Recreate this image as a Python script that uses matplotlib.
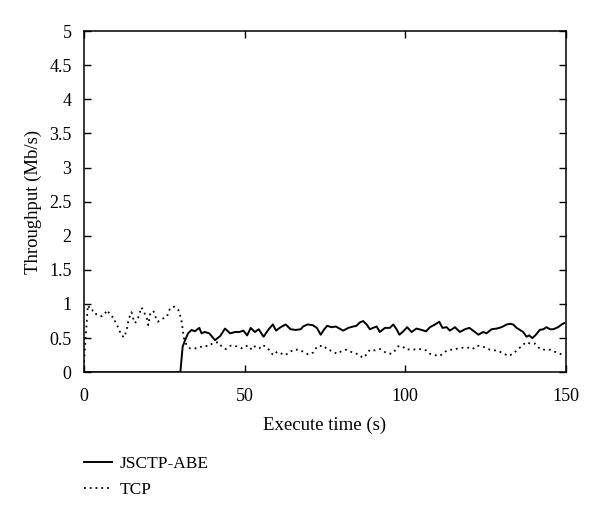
import matplotlib
matplotlib.use("Agg")
import matplotlib.pyplot as plt

plt.rcParams['font.family'] = ['Liberation Serif', 'DejaVu Serif']

# JSCTP-ABE throughput (Mb/s)
jsctp_t = [0, 30, 30.7, 31.3, 32.4, 33.5, 34.5, 35.9, 36.6, 37.6, 39, 40.8, 42.4, 43.9,
           45.5, 47.1, 48.4, 49.6, 50.8, 51.9, 53.2, 54.4, 55.9, 57.5, 58.8, 59.8, 61.2,
           62.8, 64.3, 65.9, 67.5, 68.2, 69.6, 71.2, 72.5, 73.7, 74.8, 75.7, 77.1, 78.4,
           80.7, 82.3, 83.8, 84.8, 85.9, 86.9, 88, 89, 90, 91.1, 92.1, 93.7, 95.2, 96.3,
           97.3, 98.2, 99.4, 100.6, 102, 103.5, 105.1, 106.5, 107.7, 109.3, 110.6, 111.6,
           112.9, 113.9, 115.5, 117, 118.6, 120, 121.4, 122.8, 124.3, 125.3, 126.9, 128.5,
           130, 131.6, 132.8, 133.6, 134.7, 135.7, 136.7, 137.8, 138.6, 139.6, 140.7,
           141.9, 143, 144, 145.1, 146.1, 147.6, 148.7, 149.5]
jsctp_v = [0, 0, 0.37, 0.45, 0.57, 0.62, 0.6, 0.65, 0.57, 0.59, 0.57, 0.47, 0.53, 0.64,
           0.57, 0.59, 0.59, 0.61, 0.54, 0.65, 0.59, 0.63, 0.52, 0.63, 0.7, 0.61, 0.66,
           0.7, 0.63, 0.62, 0.63, 0.67, 0.7, 0.69, 0.65, 0.55, 0.63, 0.68, 0.66, 0.67,
           0.61, 0.65, 0.67, 0.68, 0.73, 0.75, 0.7, 0.63, 0.65, 0.67, 0.59, 0.65, 0.65, 0.7,
           0.63, 0.55, 0.6, 0.66, 0.59, 0.64, 0.62, 0.6, 0.66, 0.7, 0.74, 0.65,
           0.66, 0.61, 0.66, 0.59, 0.63, 0.65, 0.6, 0.55, 0.59, 0.57, 0.63, 0.64,
           0.66, 0.7, 0.71, 0.7, 0.65, 0.62, 0.59, 0.52, 0.54, 0.5, 0.55,
           0.62, 0.63, 0.66, 0.63, 0.63, 0.66, 0.7, 0.72]

# TCP throughput (Mb/s)
tcp_t = [0, 1.2, 2.3, 3, 3.8, 5.6, 6.4, 7.2, 8.5, 9.4, 9.8, 10.9, 11.4, 12.5, 13.3, 13.9,
         14.8, 15.3, 15.9, 16.8, 17.9, 18.7, 19.6, 20, 20.6, 21.6, 22.2, 23, 24.2, 25.8,
         26.8, 28.1, 29.4, 30.1, 30.4, 30.7, 31.1, 31.9, 33, 34, 35, 36.3, 37.3, 38.7,
         40.2, 41.8, 42.8, 44.1, 45.7, 47.5, 49.1, 50.1, 51.2, 52.2, 53.2, 54.6, 55.6,
         56.3, 57.6, 58.9, 60.1, 61.2, 62.4, 63.8, 65.1, 66.9, 68.3, 69.8, 71.4, 72.6,
         74.6, 75.8, 77.4, 78.7, 80.2, 81.5, 83.1, 84.1, 85.7, 86.7, 88, 89, 90.6, 92.2,
         93.2, 94.2, 95.8, 97.1, 97.8, 99.2, 100.4, 102, 103.5, 105.1, 106.5, 107.7,
         109.3, 110.8, 112.4, 113.7, 115, 116.5, 118.1, 119.7, 121, 122.3, 123.7, 125.1,
         126.4, 128, 129.5, 130.8, 132.1, 133.6, 134.9, 136.2, 137.6, 138.9, 140.4, 142,
         143.5, 145.1, 146.6, 148.2, 149.5]
tcp_v = [0.15, 0.98, 0.9, 0.91, 0.85, 0.82, 0.85, 0.91, 0.82, 0.8, 0.72, 0.64, 0.56, 0.51,
         0.62, 0.78, 0.88, 0.79, 0.72, 0.79, 0.95, 0.88, 0.79, 0.69, 0.85, 0.9, 0.82, 0.74,
         0.78, 0.81, 0.94, 0.96, 0.91, 0.81, 0.74, 0.64, 0.5, 0.4, 0.35, 0.35, 0.35, 0.37,
         0.39, 0.38, 0.43, 0.44, 0.38, 0.34, 0.39, 0.38, 0.35, 0.38, 0.39, 0.33, 0.38,
         0.35, 0.4, 0.38, 0.33, 0.25, 0.3, 0.28, 0.25, 0.28, 0.33, 0.33, 0.3, 0.26, 0.29,
         0.38, 0.39, 0.33, 0.31, 0.27, 0.31, 0.33, 0.3, 0.28, 0.26, 0.21, 0.26, 0.33,
         0.32, 0.34, 0.31, 0.28, 0.27, 0.33, 0.38, 0.38, 0.33, 0.34, 0.33, 0.34, 0.32,
         0.27, 0.25, 0.24, 0.3, 0.33, 0.33, 0.35, 0.36, 0.36, 0.34, 0.39, 0.38, 0.36,
         0.33, 0.32, 0.3, 0.27, 0.24, 0.27, 0.33, 0.38, 0.44, 0.42, 0.42, 0.34, 0.33,
         0.33, 0.3, 0.27, 0.25]

x_ticks = [0, 50, 100, 150]
y_ticks = [0, 0.5, 1, 1.5, 2, 2.5, 3, 3.5, 4, 4.5, 5]
y_tick_labels = ['0', '0.5', '1', '1.5', '2', '2.5', '3', '3.5', '4', '4.5', '5']

fig = plt.figure(figsize=(6.0, 5.17), dpi=100)
ax = fig.add_axes([0.14, 0.28, 0.803, 0.66])

l1, = ax.plot(jsctp_t, jsctp_v, color='black', lw=1.4, label='JSCTP-ABE')
l2, = ax.plot(tcp_t, tcp_v, color='black', lw=1.3, linestyle=(0, (1, 2.2)), label='TCP')

ax.set_xlim(0, 150)
ax.set_ylim(0, 5)
ax.set_xticks(x_ticks)
ax.set_yticks(y_ticks)
ax.set_yticklabels(y_tick_labels)
ax.tick_params(direction='in', top=True, right=True, length=5, width=1,
               labelsize=13, colors='black')
ax.tick_params(axis='x', pad=11)
ax.tick_params(axis='y', pad=9)
for s in ax.spines.values():
    s.set_linewidth(1.1)

ax.set_xlabel('Execute time (s)', fontsize=13.5, labelpad=9)
ax.set_ylabel('Throughput (Mb/s)', fontsize=13.5, labelpad=5)

fig.legend(handles=[l1, l2], loc='upper left', bbox_to_anchor=(0.128, 0.132),
           frameon=False, fontsize=12.5, handlelength=1.6, handletextpad=0.45,
           labelspacing=0.6, borderaxespad=0)

fig.savefig('out.png', dpi=100, facecolor='white')
